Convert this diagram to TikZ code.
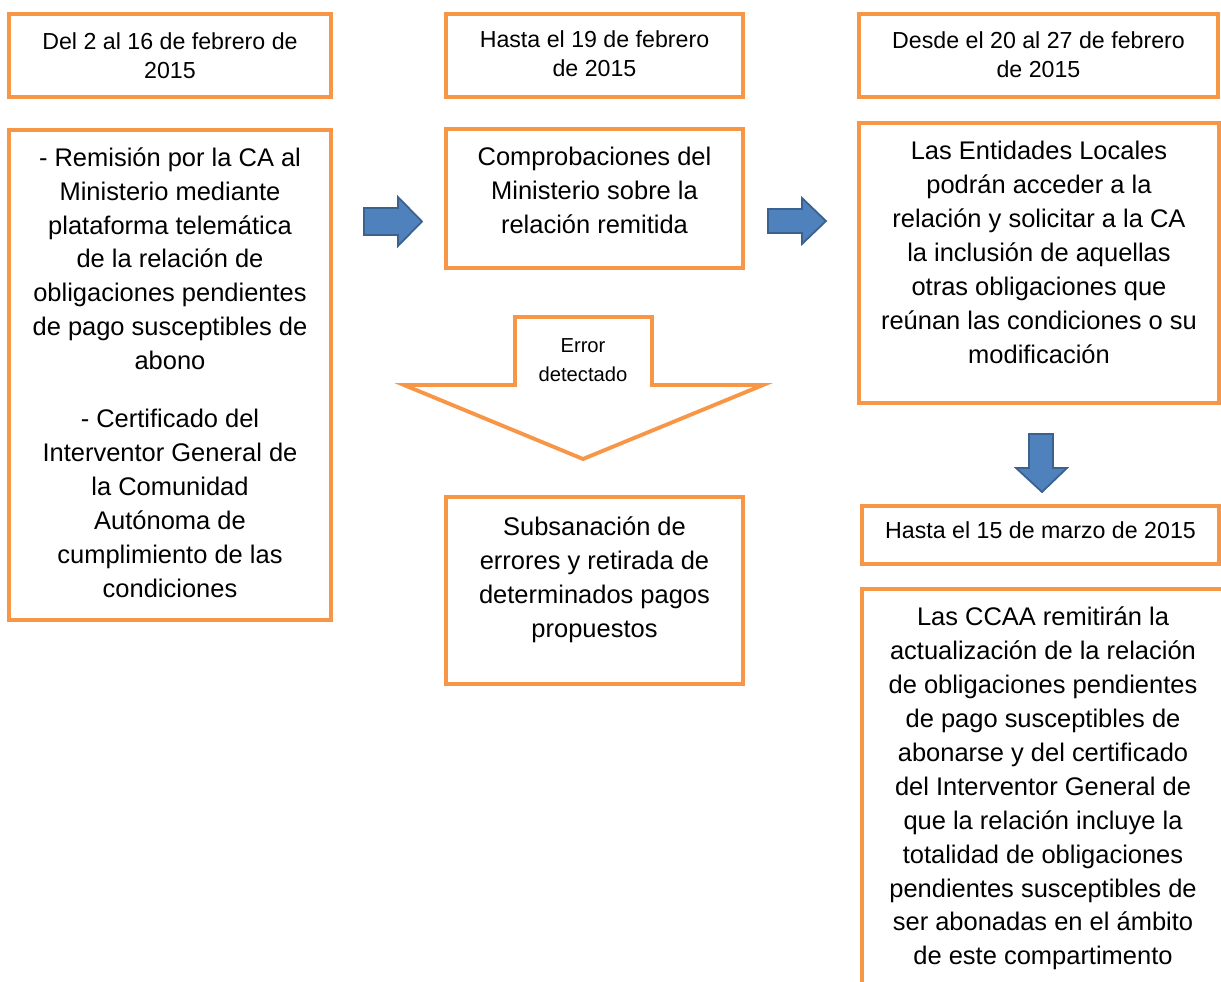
\documentclass[tikz,border=0pt]{standalone}
\usepackage{fontspec}
\setmainfont{Liberation Sans}
\usetikzlibrary{positioning}

\definecolor{plazoorange}{HTML}{F79646}
\definecolor{flechablue}{HTML}{4F81BD}
\definecolor{flechaedge}{HTML}{3A6291}

\tikzset{
	plazo/.style={draw=plazoorange, line width=2.2pt, fill=white, inner sep=0pt},
	fechatxt/.style={align=center, inner sep=0pt, font=\fontsize{13.2}{16.4}\selectfont},
	pasotxt/.style={align=center, inner sep=0pt, font=\fontsize{14.5}{19.3}\selectfont},
	errortxt/.style={align=center, inner sep=0pt, font=\fontsize{11.5}{16.4}\selectfont},
	flecha/.style={fill=flechablue, draw=flechaedge, line width=1pt, line join=miter}
}

\begin{document}
\begin{tikzpicture}[x=0.02cm, y=-0.02cm]
			%%%%% START %%%%%
			\useasboundingbox (0, 0) rectangle (1221, 981);
			
			% columna izquierda
			\node[plazo, minimum width=6.44cm, minimum height=1.66cm] (fecha1) at (170, 55.5) {};
			\node[fechatxt, below=0.4cm of fecha1.north] (fecha1t) {Del 2 al 16 de febrero de\\2015};
			
			\node[plazo, minimum width=6.44cm, minimum height=9.8cm] (paso1) at (170, 375) {};
			\node[pasotxt, below=0.38cm of paso1.north] (paso1t) {- Remisión por la CA al\\Ministerio mediante\\plataforma telemática\\de la relación de\\obligaciones pendientes\\de pago susceptibles de\\abono\\[13.6pt]- Certificado del\\Interventor General de\\la Comunidad\\Autónoma de\\cumplimiento de las\\condiciones};
			
			\draw[flecha] (364, 208) -- (398, 208) -- (398, 197) -- (422, 221.5) -- (398, 246) -- (398, 235) -- (364, 235) -- cycle;
			
			% columna central
			\node[plazo, minimum width=5.94cm, minimum height=1.66cm] (fecha2) at (594.5, 55.5) {};
			\node[fechatxt, below=0.37cm of fecha2.north] (fecha2t) {Hasta el 19 de febrero\\de 2015};
			
			\node[plazo, minimum width=5.94cm, minimum height=2.78cm] (paso2) at (594.5, 198.5) {};
			\node[pasotxt, below=0.4cm of paso2.north] (paso2t) {Comprobaciones del\\Ministerio sobre la\\relación remitida};
			
			\draw[plazo] (515, 317) -- (652, 317) -- (652, 385) -- (763, 385) -- (583, 459) -- (404, 385) -- (515, 385) -- cycle;
			\node[errortxt] (error) at (583, 360) {Error\\detectado};
			
			\node[plazo, minimum width=5.94cm, minimum height=3.74cm] (paso3) at (594.5, 590.5) {};
			\node[pasotxt, below=0.43cm of paso3.north] (paso3t) {Subsanación de\\errores y retirada de\\determinados pagos\\propuestos};
			
			\draw[flecha] (768, 209) -- (802, 209) -- (802, 198) -- (826, 221) -- (802, 244) -- (802, 233) -- (768, 233) -- cycle;
			
			% columna derecha
			\node[plazo, minimum width=7.18cm, minimum height=1.66cm] (fecha3) at (1038.5, 55.5) {};
			\node[fechatxt, below=0.39cm of fecha3.north] (fecha3t) {Desde el 20 al 27 de febrero\\de 2015};
			
			\node[plazo, minimum width=7.2cm, minimum height=5.6cm] (paso4) at (1039, 263) {};
			\node[pasotxt, below=0.4cm of paso4.north] (paso4t) {Las Entidades Locales\\podrán acceder a la\\relación y solicitar a la CA\\la inclusión de aquellas\\otras obligaciones que\\reúnan las condiciones o su\\modificación};
			
			\draw[flecha] (1029, 434) -- (1053, 434) -- (1053, 468) -- (1067, 468) -- (1042, 492) -- (1016, 468) -- (1029, 468) -- cycle;
			
			\node[plazo, minimum width=7.14cm, minimum height=1.16cm] (fecha4) at (1040.5, 535) {};
			\node[fechatxt, below=0.35cm of fecha4.north] (fecha4t) {Hasta el 15 de marzo de 2015};
			
			\node[plazo, minimum width=7.76cm, minimum height=8.42cm] (paso5) at (1056, 799.5) {};
			\node[pasotxt, below=0.39cm of paso5.north, xshift=-0.26cm] (paso5t) {Las CCAA remitirán la\\actualización de la relación\\de obligaciones pendientes\\de pago susceptibles de\\abonarse y del certificado\\del Interventor General de\\que la relación incluye la\\totalidad de obligaciones\\pendientes susceptibles de\\ser abonadas en el ámbito\\de este compartimento};
			%%%%% END %%%%%
\end{tikzpicture}
\end{document}
